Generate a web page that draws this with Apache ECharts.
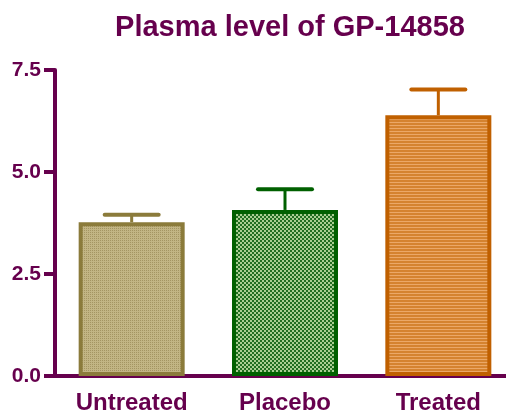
<!DOCTYPE html>
<html>
<head>
<meta charset="utf-8">
<script src="https://cdn.jsdelivr.net/npm/echarts@6/dist/echarts.min.js"></script>
<style>
  html, body { margin: 0; padding: 0; background: #fff; }
  #chart { width: 506px; height: 411px; }
</style>
</head>
<body>
<div id="chart"></div>
<script>
var categories = ['Untreated', 'Placebo', 'Treated'];
var means = [3.77, 4.07, 6.39];
var sems = [0.18, 0.51, 0.63];
var yTicks = [0, 2.5, 5, 7.5];

var purple = '#66004d';
var borders = ['#8b7b3b', '#006000', '#c06000'];

// small canvas tiles for the fill patterns
function tile(w, h, draw) {
  var c = document.createElement('canvas');
  c.width = w; c.height = h;
  draw(c.getContext('2d'));
  return c;
}
var dots = tile(2, 2, function(g) {
  g.fillStyle = '#c2b584'; g.fillRect(0, 0, 2, 2);
  g.fillStyle = '#a49562'; g.fillRect(0, 0, 1, 1);
});
var checker = tile(4, 4, function(g) {
  g.fillStyle = '#a9cf92'; g.fillRect(0, 0, 4, 4);
  g.fillStyle = '#206e20'; g.fillRect(0, 0, 2, 2); g.fillRect(2, 2, 2, 2);
});
var stripes = tile(3, 3, function(g) {
  g.fillStyle = '#d5832f'; g.fillRect(0, 0, 3, 3);
  g.fillStyle = '#eba867'; g.fillRect(0, 2, 3, 1);
});
var fills = [dots, checker, stripes];

var chart = echarts.init(document.getElementById('chart'));

var option = {
  backgroundColor: '#fff',
  animation: false,
  title: {
    text: 'Plasma level of GP-14858',
    left: 285,
    top: 8,
    textAlign: 'center',
    textStyle: {
      color: purple,
      fontFamily: 'Liberation Sans, Arial, sans-serif',
      fontWeight: 'bold',
      fontSize: 29
    }
  },
  grid: {
    left: 55,
    top: 70,
    width: 460,
    height: 306,
    outerBoundsMode: 'none'
  },
  xAxis: {
    type: 'category',
    data: categories,
    axisLine: { lineStyle: { color: purple, width: 4 } },
    axisTick: { alignWithLabel: true, length: 10, lineStyle: { color: purple, width: 4 } },
    axisLabel: {
      margin: 15,
      color: purple,
      fontFamily: 'Liberation Sans, Arial, sans-serif',
      fontWeight: 'bold',
      fontSize: 24
    }
  },
  yAxis: {
    type: 'value',
    min: yTicks[0],
    max: yTicks[yTicks.length - 1],
    interval: yTicks[1] - yTicks[0],
    splitLine: { show: false },
    axisLine: { show: true, lineStyle: { color: purple, width: 4 } },
    axisTick: { show: true, length: 11, lineStyle: { color: purple, width: 4 } },
    axisLabel: {
      margin: 14,
      color: purple,
      fontFamily: 'Liberation Sans, Arial, sans-serif',
      fontWeight: 'bold',
      fontSize: 21,
      formatter: function(v) { return v.toFixed(1); }
    }
  },
  series: [{
    type: 'bar',
    barWidth: 106,
    data: means.map(function(v, i) {
      return {
        value: v,
        itemStyle: {
          color: { image: fills[i], repeat: 'repeat' },
          borderColor: borders[i],
          borderWidth: 4
        }
      };
    })
  }, {
    // SEM error bars, drawn upward only
    type: 'custom',
    z: 3,
    data: means.map(function(v, i) { return [i, v, v + sems[i]]; }),
    renderItem: function(params, api) {
      var i = api.value(0);
      var base = api.coord([i, api.value(1)]);
      var top = api.coord([i, api.value(2)]);
      var half = 27;
      var col = borders[i];
      return {
        type: 'group',
        children: [{
          type: 'line',
          shape: { x1: base[0], y1: base[1], x2: top[0], y2: top[1] },
          style: { stroke: col, lineWidth: 3 }
        }, {
          type: 'line',
          shape: { x1: top[0] - half, y1: top[1], x2: top[0] + half, y2: top[1] },
          style: { stroke: col, lineWidth: 4, lineCap: 'round' }
        }]
      };
    }
  }]
};

chart.setOption(option);
</script>
</body>
</html>
